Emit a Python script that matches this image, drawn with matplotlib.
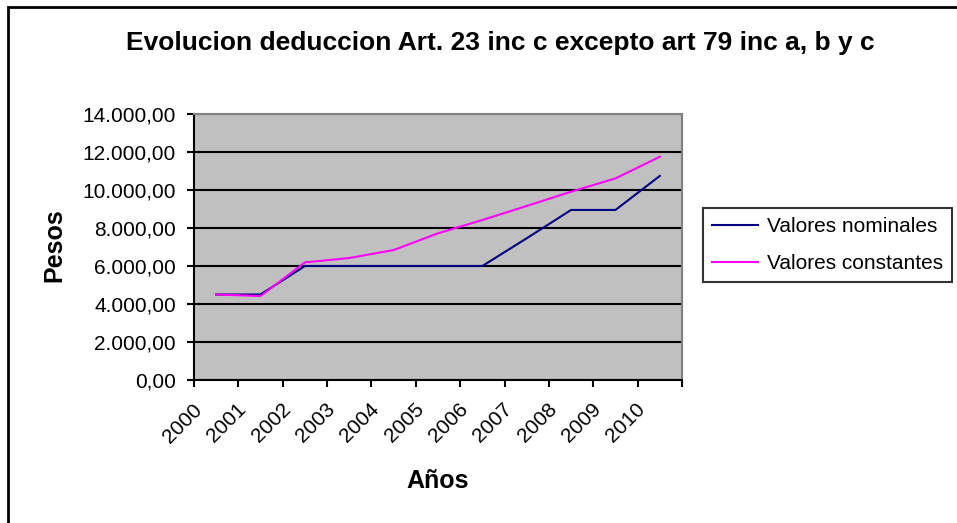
import numpy as np
import matplotlib.pyplot as plt
from matplotlib.patches import Rectangle
from matplotlib.ticker import FuncFormatter, FixedLocator
from matplotlib.transforms import ScaledTranslation

# ── DATA ─────────────────────────────────────────────────────────────────────
years = ['2000', '2001', '2002', '2003', '2004', '2005',
         '2006', '2007', '2008', '2009', '2010']
nominales = [4500, 4500, 6000, 6000, 6000, 6000, 6000, 7460, 8950, 8950, 10740]
constantes = [4500, 4420, 6190, 6420, 6840, 7720, 8420, 9160, 9910, 10610, 11750]

plt.rcParams['font.family'] = ['Liberation Sans', 'DejaVu Sans']

W, H = 957, 523
fig = plt.figure(figsize=(W / 100, H / 100), dpi=100)

# outer chart frame (only top/left visible in the original)
fig.patches.append(Rectangle((8 / W, -0.1), 1.2, 1 - 7 / H + 0.1,
                             transform=fig.transFigure, fill=False,
                             edgecolor='black', linewidth=2))

# plot area in pixel coordinates
left, top, right, bottom = 194, 114, 682, 380
ax = fig.add_axes([left / W, 1 - bottom / H, (right - left) / W, (bottom - top) / H])
ax.set_facecolor('#C0C0C0')

x = np.arange(len(years)) + 0.5
ax.plot(x, nominales, color='#000080', linewidth=1.5, label='Valores nominales')
ax.plot(x, constantes, color='#FF00FF', linewidth=1.5, label='Valores constantes')

ax.set_xlim(0, len(years))
ax.set_ylim(0, 14000)
ax.set_yticks(np.arange(0, 14001, 2000))
ax.yaxis.set_major_formatter(FuncFormatter(
    lambda v, p: f"{v:,.2f}".replace(',', 'X').replace('.', ',').replace('X', '.')))
ax.grid(axis='y', color='black', linewidth=1.5)
ax.set_axisbelow(True)

# category boundaries as tick marks, labels at category centers
ax.xaxis.set_major_locator(FixedLocator(np.arange(len(years) + 1)))
ax.xaxis.set_minor_locator(FixedLocator(x))
ax.set_xticklabels([])
ax.set_xticklabels(years, minor=True, rotation=45, ha='right',
                   rotation_mode='anchor', fontsize=15)
ax.tick_params(axis='x', which='minor', length=0, pad=10)
ax.tick_params(axis='both', which='major', direction='out', length=5,
               width=1.5, color='black', labelsize=15)
ax.tick_params(axis='y', pad=8)

shift = ScaledTranslation(-24 / 100, -6 / 100, fig.dpi_scale_trans)
for lbl in ax.get_xticklabels(minor=True):
    lbl.set_transform(lbl.get_transform() + shift)

for s in ['left', 'bottom']:
    ax.spines[s].set_color('black')
    ax.spines[s].set_linewidth(1.5)
for s in ['top', 'right']:
    ax.spines[s].set_color('#808080')
    ax.spines[s].set_linewidth(1.5)

ax.set_ylabel('Pesos', fontsize=18, fontweight='bold')
ax.yaxis.set_label_coords(54 / W, 1 - 245 / H, transform=fig.transFigure)
ax.yaxis.label.set_va('center')
ax.set_xlabel('Años', fontsize=18, fontweight='bold')
ax.xaxis.set_label_coords(438 / W, 1 - 481 / H, transform=fig.transFigure)
ax.xaxis.label.set_va('center')

fig.text(500 / W, 1 - 43 / H, 'Evolucion deduccion Art. 23 inc c excepto art 79 inc a, b y c',
         ha='center', va='center', fontsize=19, fontweight='bold')

leg = fig.legend(loc='upper left', bbox_to_anchor=(703 / W, 1 - 208 / H),
                 fontsize=15, frameon=True, fancybox=False, edgecolor='black',
                 handlelength=2.2, borderpad=0.45, labelspacing=0.85,
                 handletextpad=0.4, borderaxespad=0)
leg.get_frame().set_linewidth(1.5)

fig.savefig('out.png', dpi=100)
